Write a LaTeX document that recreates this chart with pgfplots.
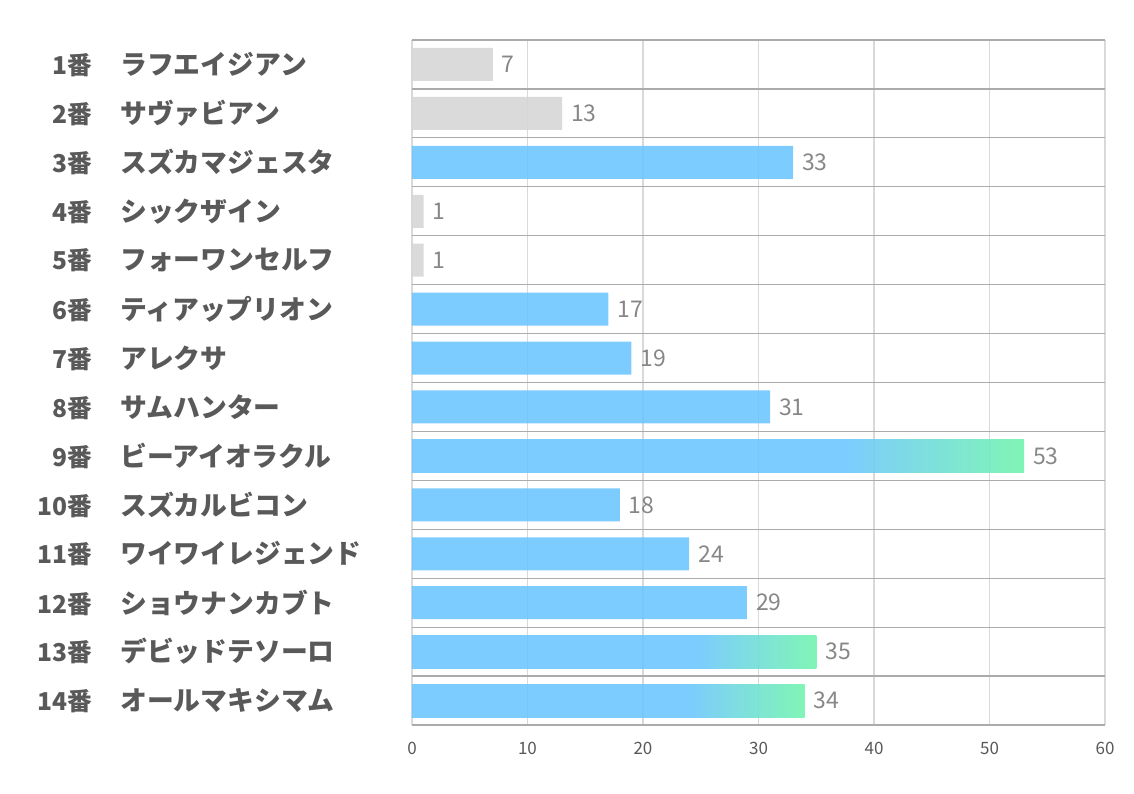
\documentclass[border=0pt]{standalone}
\usepackage{fontspec}
\setmainfont{Noto Sans CJK JP}
\usepackage{pgfplots}
\pgfplotsset{compat=1.18}
\definecolor{cblue}{HTML}{6EC6FF}
\definecolor{cgreen}{HTML}{72F4AE}
\definecolor{cgray}{HTML}{D6D6D6}
\definecolor{labgray}{HTML}{595959}
\definecolor{valgray}{HTML}{7A7A7A}
\definecolor{sepgray}{HTML}{ABABAB}
\definecolor{gridgray}{HTML}{D9D9D9}
% flat blue, then blue-to-green over the last part of the bar
\pgfdeclarehorizontalshading{barshade}{100bp}{color(0bp)=(cblue); color(60bp)=(cblue); color(75bp)=(cgreen); color(100bp)=(cgreen)}
\newcommand{\lab}[2]{\makebox[30pt][r]{\fontsize{12.3}{14}\selectfont#1番}\hspace{14pt}#2}

\begin{document}
\begin{tikzpicture}
\path[use as bounding box] (-206pt,-34pt) rectangle (361pt,362.5pt);
\begin{axis}[
  at={(0,0)}, anchor=south west,
  scale only axis, width=346.5pt, height=342.5pt,
  xbar, bar width=16.5pt, bar shift=0pt,
  xmin=0, xmax=60, xtick={0,10,...,60},
  ymin=0.5, ymax=14.5, y dir=reverse,
  ytick={1,...,14},
  minor ytick={0.5,1.5,...,14.5},
  yticklabels={
    {\lab{1}{ラフエイジアン}},
    {\lab{2}{サヴァビアン}},
    {\lab{3}{スズカマジェスタ}},
    {\lab{4}{シックザイン}},
    {\lab{5}{フォーワンセルフ}},
    {\lab{6}{ティアップリオン}},
    {\lab{7}{アレクサ}},
    {\lab{8}{サムハンター}},
    {\lab{9}{ビーアイオラクル}},
    {\lab{10}{スズカルビコン}},
    {\lab{11}{ワイワイレジェンド}},
    {\lab{12}{ショウナンカブト}},
    {\lab{13}{デビッドテソーロ}},
    {\lab{14}{オールマキシマム}}},
  major tick length=0pt, minor tick length=0pt,
  axis line style={draw=none},
  xmajorgrids, major x grid style={gridgray, line width=0.6pt},
  yminorgrids, minor y grid style={sepgray, line width=0.6pt},
  /pgf/number format/assume math mode=true,
  yticklabel style={anchor=west, inner sep=0pt, xshift=-190pt,
    font=\fontsize{13.4}{14}\selectfont\bfseries, text=labgray},
  xticklabel style={font=\fontsize{8.5}{9}\selectfont, text=labgray, yshift=-5pt},
  point meta=x,
  nodes near coords,
  every node near coord/.append style={font=\fontsize{11.5}{12}\selectfont,
    text=valgray, xshift=1pt},
]
\addplot[draw=none, fill=cgray, fill opacity=0.9] coordinates {
  (7,1) (13,2) (1,4) (1,5)};
\addplot[draw=none, fill=cblue, fill opacity=0.9] coordinates {
  (33,3) (17,6) (19,7) (31,8) (18,10) (24,11) (29,12)};
% one plot per shaded bar, so that each bar gets its own gradient
\addplot[draw=none, shade, shading=barshade, fill opacity=0.9] coordinates {(53,9)};
\addplot[draw=none, shade, shading=barshade, fill opacity=0.9] coordinates {(35,13)};
\addplot[draw=none, shade, shading=barshade, fill opacity=0.9] coordinates {(34,14)};
\end{axis}
\end{tikzpicture}
\end{document}
